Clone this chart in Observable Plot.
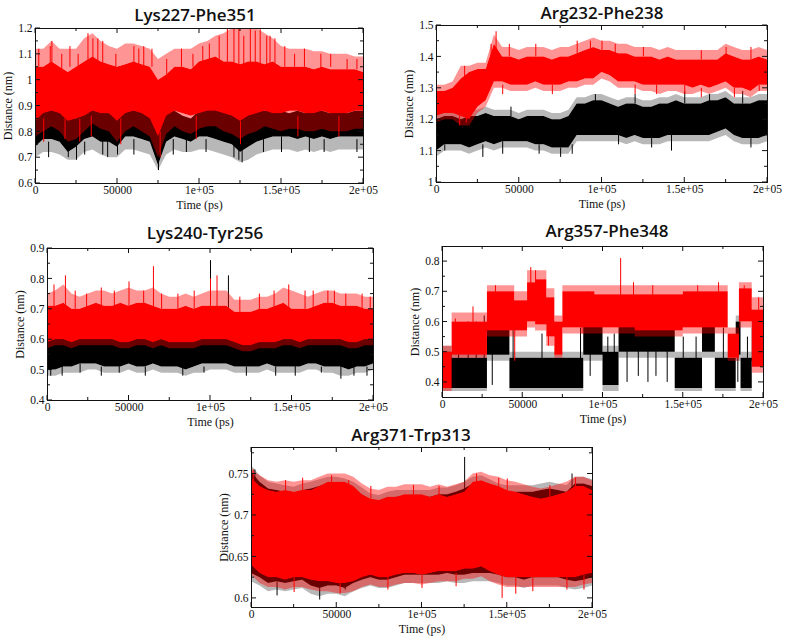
<!DOCTYPE html>
<html><head><meta charset="utf-8">
<script src="https://cdn.jsdelivr.net/npm/d3@7"></script>
<script src="https://cdn.jsdelivr.net/npm/@observablehq/plot@0.6"></script>
<style>
body{margin:0;background:#fff}
#c{position:relative;width:787px;height:639px;overflow:hidden;background:#fff}
#c svg{position:absolute}
.t{position:absolute;font-family:"Open Sans",sans-serif;font-weight:600;font-size:17px;color:#111;transform:translate(-50%,-50%);white-space:nowrap}
</style>
</head><body><div id="c"></div>
<script>
// ---------- shared axes ----------
const xMajor = [0, 50000, 100000, 150000, 200000];
const xMajorLabels = ["0", "50000", "1e+05", "1.5e+05", "2e+05"];
const xMinor = [25000, 75000, 125000, 175000];
const time = [0,5000,10000,15000,20000,25000,30000,35000,40000,45000,50000,55000,60000,65000,70000,75000,80000,85000,90000,95000,100000,105000,110000,115000,120000,125000,130000,135000,140000,145000,150000,155000,160000,165000,170000,175000,180000,185000,190000,195000,200000];

// ---------- Panel 1: Lys227-Phe351 (dense core hi/lo, sparse peak/trough) ----------
const p1RedPeak = [1.12,1.12,1.15,1.12,1.12,1.12,1.16,1.18,1.15,1.13,1.12,1.14,1.14,1.13,1.12,1.08,1.10,1.12,1.12,1.12,1.14,1.15,1.17,1.18,1.2,1.2,1.2,1.2,1.18,1.16,1.13,1.12,1.12,1.12,1.11,1.11,1.10,1.10,1.10,1.09,1.09];
const p1RedHi = [1.05,1.05,1.07,1.05,1.03,1.05,1.07,1.09,1.07,1.06,1.05,1.06,1.07,1.06,1.05,1.00,1.02,1.05,1.05,1.04,1.07,1.08,1.09,1.07,1.07,1.06,1.07,1.07,1.06,1.07,1.05,1.05,1.05,1.05,1.04,1.05,1.04,1.04,1.04,1.04,1.03];
const p1RedLo = [0.84,0.87,0.88,0.87,0.84,0.85,0.86,0.88,0.87,0.87,0.84,0.87,0.88,0.87,0.85,0.78,0.86,0.88,0.87,0.86,0.87,0.88,0.88,0.87,0.86,0.84,0.86,0.87,0.88,0.87,0.87,0.88,0.88,0.87,0.87,0.88,0.87,0.87,0.87,0.88,0.88];
const p1RedTrough = [0.78,0.80,0.82,0.80,0.76,0.77,0.80,0.83,0.81,0.80,0.76,0.80,0.82,0.80,0.78,0.70,0.79,0.82,0.80,0.79,0.81,0.82,0.82,0.80,0.79,0.77,0.79,0.80,0.82,0.81,0.80,0.81,0.81,0.80,0.80,0.81,0.80,0.80,0.80,0.81,0.81];
const p1BlackHi = [0.88,0.90,0.92,0.88,0.86,0.85,0.88,0.92,0.88,0.87,0.88,0.88,0.90,0.88,0.87,0.82,0.92,0.88,0.86,0.85,0.88,0.90,0.92,0.88,0.88,0.86,0.87,0.88,0.88,0.89,0.88,0.87,0.88,0.87,0.88,0.88,0.87,0.88,0.87,0.88,0.88];
const p1BlackLo = [0.74,0.77,0.77,0.76,0.72,0.74,0.77,0.78,0.76,0.76,0.74,0.78,0.78,0.77,0.76,0.67,0.76,0.78,0.77,0.76,0.78,0.78,0.77,0.76,0.75,0.72,0.74,0.76,0.77,0.78,0.78,0.78,0.77,0.78,0.77,0.78,0.77,0.78,0.78,0.78,0.78];
const p1BlackTrough = [0.70,0.72,0.72,0.71,0.69,0.69,0.72,0.73,0.71,0.70,0.70,0.73,0.73,0.72,0.71,0.65,0.71,0.73,0.72,0.72,0.73,0.73,0.72,0.71,0.70,0.68,0.69,0.71,0.72,0.73,0.73,0.73,0.72,0.73,0.72,0.73,0.72,0.73,0.73,0.73,0.73];
const p1RedSpikes = [[2000,1.05,1.12],[10000,1.05,1.15],[21000,1.05,1.13],[32000,1.05,1.18],[35000,1.05,1.16],[41000,1.05,1.15],[60000,1.05,1.13],[63000,1.05,1.12],[89000,1.05,1.12],[102000,1.05,1.13],[112000,1.05,1.17],[117000,1.05,1.2],[121000,1.05,1.2],[124000,1.05,1.2],[127000,1.05,1.17],[131000,1.05,1.2],[134000,1.05,1.19],[137000,1.05,1.2],[141000,1.05,1.17],[146000,1.05,1.16],[152000,1.05,1.13],[164000,1.05,1.12],[180000,1.05,1.1],
  [9000,1.05,1.13],[16000,1.04,1.1],[26000,1.05,1.1],[38000,1.07,1.16],[49000,1.05,1.1],[66000,1.05,1.13],[71000,1.05,1.12],[80000,1.02,1.08],[96000,1.05,1.1],[106000,1.07,1.14],[143000,1.06,1.17],[158000,1.05,1.1],[174000,1.04,1.1],[190000,1.04,1.08],[196000,1.04,1.08],
  [18000,0.85,0.77],[27000,0.85,0.76],[52000,0.85,0.75],[76000,0.8,0.7],[5000,0.85,0.76],[34000,0.86,0.78],[98000,0.86,0.77],[125000,0.84,0.75],[160000,0.86,0.78],[185000,0.86,0.78]];
const p1BlackSpikes = [[20000,0.78,0.70],[25000,0.78,0.69],[41000,0.78,0.71],[44000,0.78,0.70],[50000,0.78,0.71],[75000,0.72,0.65],[92000,0.78,0.72],[121000,0.78,0.70],[124000,0.78,0.69],[126000,0.78,0.68],[150000,0.78,0.72],[167000,0.78,0.72],
  [8000,0.76,0.7],[30000,0.76,0.71],[60000,0.77,0.71],[84000,0.77,0.71],[104000,0.77,0.72],[139000,0.77,0.72],[176000,0.77,0.72],[196000,0.77,0.72]];

// ---------- Panel 2: Arg232-Phe238 ----------
const p2RedPeak = [1.31,1.31,1.32,1.37,1.37,1.38,1.38,1.47,1.43,1.43,1.42,1.43,1.43,1.43,1.42,1.43,1.43,1.44,1.45,1.46,1.45,1.45,1.44,1.44,1.43,1.43,1.43,1.42,1.43,1.42,1.42,1.42,1.42,1.42,1.42,1.44,1.43,1.42,1.42,1.43,1.42];
const p2RedHi = [1.29,1.29,1.30,1.33,1.35,1.36,1.36,1.44,1.40,1.40,1.39,1.40,1.40,1.40,1.39,1.40,1.40,1.41,1.42,1.43,1.42,1.42,1.41,1.41,1.40,1.40,1.40,1.39,1.40,1.39,1.39,1.39,1.39,1.39,1.39,1.41,1.40,1.39,1.39,1.40,1.39];
const p2RedLo = [1.21,1.22,1.22,1.21,1.20,1.24,1.26,1.32,1.32,1.31,1.31,1.31,1.32,1.31,1.31,1.31,1.32,1.32,1.33,1.33,1.35,1.34,1.32,1.32,1.32,1.31,1.31,1.31,1.31,1.31,1.31,1.30,1.31,1.30,1.31,1.32,1.30,1.30,1.29,1.31,1.31];
const p2RedTrough = [1.19,1.20,1.20,1.18,1.18,1.22,1.24,1.30,1.30,1.29,1.29,1.29,1.30,1.29,1.29,1.29,1.30,1.30,1.31,1.31,1.33,1.32,1.30,1.30,1.30,1.29,1.29,1.28,1.29,1.29,1.28,1.28,1.29,1.28,1.29,1.30,1.28,1.28,1.27,1.29,1.29];
const p2BlackPeak = [1.22,1.23,1.23,1.22,1.23,1.23,1.24,1.23,1.23,1.23,1.22,1.23,1.23,1.23,1.22,1.22,1.23,1.27,1.27,1.28,1.28,1.27,1.26,1.27,1.27,1.26,1.26,1.27,1.27,1.28,1.27,1.27,1.27,1.28,1.28,1.29,1.27,1.27,1.27,1.28,1.28];
const p2BlackHi = [1.20,1.21,1.21,1.20,1.21,1.21,1.22,1.21,1.21,1.21,1.20,1.21,1.21,1.21,1.20,1.20,1.21,1.25,1.25,1.26,1.26,1.25,1.24,1.25,1.25,1.24,1.24,1.25,1.25,1.26,1.25,1.25,1.25,1.26,1.26,1.27,1.25,1.25,1.25,1.26,1.26];
const p2BlackLo = [1.10,1.12,1.12,1.12,1.11,1.12,1.13,1.12,1.13,1.13,1.13,1.13,1.12,1.12,1.11,1.11,1.11,1.15,1.15,1.15,1.15,1.15,1.15,1.14,1.15,1.14,1.14,1.14,1.15,1.15,1.15,1.15,1.15,1.15,1.16,1.17,1.15,1.14,1.14,1.14,1.15];
const p2BlackTrough = [1.08,1.10,1.10,1.10,1.09,1.10,1.11,1.10,1.11,1.11,1.11,1.11,1.10,1.10,1.09,1.09,1.09,1.13,1.13,1.13,1.13,1.13,1.13,1.12,1.13,1.12,1.12,1.12,1.13,1.13,1.13,1.13,1.13,1.13,1.14,1.15,1.13,1.12,1.12,1.12,1.13];
const p2RedSpikes = [[17000,1.30,1.37],[33000,1.40,1.44],[36000,1.40,1.48],[93000,1.40,1.45],[100000,1.40,1.45],[175000,1.40,1.43],[44000,1.40,1.44],[60000,1.40,1.44],[85000,1.41,1.45],[108000,1.41,1.44],[125000,1.40,1.43],[160000,1.39,1.42],[190000,1.39,1.43],
  [14000,1.22,1.18],[18000,1.22,1.19],[133000,1.31,1.28],[150000,1.31,1.28],[195000,1.31,1.29],[40000,1.31,1.28],[70000,1.31,1.28],[120000,1.31,1.28],[160000,1.30,1.27],[180000,1.30,1.27]];
const p2BlackSpikes = [[96000,1.24,1.28],[165000,1.24,1.28],[20000,1.21,1.25],[45000,1.21,1.24],[120000,1.25,1.28],[150000,1.25,1.29],[185000,1.25,1.29],
  [5000,1.12,1.10],[28000,1.12,1.08],[82000,1.12,1.09],[110000,1.15,1.12],[142000,1.15,1.10],[40000,1.13,1.09],[62000,1.12,1.09],[75000,1.11,1.08],[130000,1.14,1.11],[190000,1.14,1.11]];

// ---------- Panel 3: Lys240-Tyr256 ----------
const p3RedPeak = [0.75,0.76,0.78,0.75,0.74,0.75,0.76,0.76,0.75,0.76,0.77,0.76,0.76,0.77,0.75,0.74,0.74,0.75,0.74,0.75,0.76,0.76,0.76,0.73,0.73,0.73,0.74,0.74,0.75,0.77,0.76,0.75,0.74,0.75,0.76,0.76,0.75,0.75,0.75,0.74,0.74];
const p3RedHi = [0.71,0.71,0.72,0.70,0.70,0.71,0.72,0.71,0.71,0.72,0.71,0.72,0.72,0.71,0.70,0.70,0.70,0.71,0.70,0.71,0.71,0.71,0.71,0.69,0.69,0.69,0.70,0.70,0.71,0.72,0.70,0.70,0.70,0.71,0.72,0.72,0.71,0.71,0.71,0.70,0.70];
const p3RedLo = [0.59,0.60,0.60,0.59,0.60,0.60,0.60,0.60,0.60,0.59,0.59,0.60,0.60,0.59,0.60,0.59,0.59,0.59,0.59,0.60,0.60,0.60,0.60,0.59,0.58,0.58,0.59,0.59,0.59,0.60,0.60,0.59,0.60,0.60,0.60,0.60,0.60,0.59,0.59,0.60,0.60];
const p3RedTrough = [0.57,0.58,0.58,0.57,0.58,0.58,0.58,0.58,0.58,0.57,0.57,0.58,0.58,0.57,0.58,0.57,0.57,0.57,0.57,0.58,0.58,0.58,0.58,0.57,0.56,0.56,0.57,0.57,0.57,0.58,0.58,0.57,0.58,0.58,0.58,0.58,0.58,0.57,0.57,0.58,0.58];
const p3BlackHi = [0.62,0.61,0.61,0.62,0.63,0.62,0.61,0.62,0.61,0.62,0.62,0.62,0.61,0.62,0.61,0.61,0.61,0.62,0.62,0.62,0.63,0.62,0.62,0.61,0.61,0.61,0.61,0.62,0.62,0.63,0.62,0.61,0.62,0.62,0.63,0.62,0.62,0.62,0.62,0.62,0.61];
const p3BlackLo = [0.50,0.50,0.51,0.51,0.52,0.52,0.52,0.51,0.51,0.51,0.52,0.51,0.51,0.52,0.51,0.51,0.51,0.50,0.51,0.52,0.52,0.52,0.52,0.51,0.51,0.51,0.51,0.52,0.51,0.51,0.51,0.51,0.52,0.52,0.51,0.51,0.51,0.50,0.51,0.51,0.52];
const p3BlackTrough = [0.48,0.48,0.49,0.49,0.49,0.50,0.50,0.49,0.49,0.49,0.50,0.49,0.49,0.50,0.49,0.49,0.49,0.48,0.49,0.49,0.50,0.50,0.50,0.49,0.49,0.49,0.49,0.50,0.49,0.49,0.49,0.49,0.50,0.50,0.49,0.49,0.48,0.48,0.49,0.49,0.50];
const p3RedSpikes = [[4000,0.7,0.78],[11000,0.7,0.81],[33000,0.7,0.77],[50000,0.7,0.79],[59000,0.7,0.76],[65000,0.7,0.84],[80000,0.7,0.75],[100000,0.7,0.8],[104000,0.7,0.81],[148000,0.7,0.78],[158000,0.7,0.76],[172000,0.7,0.76],[176000,0.7,0.76],[193000,0.7,0.75],
  [17000,0.7,0.76],[24000,0.7,0.75],[41000,0.7,0.76],[70000,0.7,0.75],[90000,0.7,0.76],[118000,0.69,0.74],[130000,0.7,0.75],[139000,0.7,0.76],[163000,0.7,0.76],[183000,0.7,0.75],[198000,0.7,0.74]];
const p3BlackSpikes = [[100000,0.6,0.86],[111000,0.6,0.81],[2000,0.52,0.48],[20000,0.52,0.49],[44000,0.52,0.49],[83000,0.52,0.48],[152000,0.52,0.48],[180000,0.52,0.47],[188000,0.52,0.48],
  [9000,0.51,0.48],[33000,0.51,0.48],[60000,0.51,0.48],[96000,0.51,0.49],[122000,0.51,0.48],[140000,0.51,0.48],[168000,0.51,0.49],[196000,0.51,0.48]];

// ---------- Panel 4: Arg357-Phe348 (state switching) ----------
const p4RedT = [0,6000,28000,45000,53000,58000,65000,70000,75000,95000,120000,150000,178000,185000,193000,200000];
const p4RedPeak = [0.52,0.63,0.72,0.70,0.77,0.77,0.71,0.62,0.72,0.72,0.72,0.72,0.58,0.73,0.68,0.68];
const p4RedHi = [0.50,0.60,0.70,0.67,0.73,0.74,0.68,0.60,0.70,0.69,0.69,0.70,0.56,0.71,0.64,0.64];
const p4RedLo = [0.38,0.49,0.57,0.57,0.60,0.59,0.55,0.49,0.58,0.58,0.57,0.58,0.48,0.60,0.45,0.45];
const p4RedTrough = [0.37,0.48,0.55,0.55,0.58,0.57,0.52,0.48,0.56,0.56,0.55,0.56,0.47,0.58,0.43,0.43];
const p4BlackT = [0,6000,28000,42000,88000,100000,110000,145000,162000,170000,183000,186000,193000,200000];
const p4BlackPeak = [0.52,0.50,0.62,0.50,0.62,0.52,0.62,0.50,0.62,0.50,0.62,0.50,0.60,0.60];
const p4BlackHi = [0.50,0.48,0.60,0.48,0.60,0.50,0.60,0.48,0.60,0.48,0.60,0.48,0.58,0.58];
const p4BlackLo = [0.38,0.38,0.49,0.38,0.49,0.39,0.50,0.38,0.50,0.38,0.49,0.38,0.47,0.47];
const p4BlackTrough = [0.37,0.37,0.47,0.37,0.47,0.37,0.48,0.37,0.48,0.37,0.47,0.37,0.45,0.45];
const p4RedSpikes = [[8000,0.58,0.61],[19000,0.58,0.65],[33000,0.68,0.72],[55000,0.72,0.78],[58000,0.72,0.77],[91000,0.68,0.7],[111000,0.68,0.81],[119000,0.68,0.73],[131000,0.68,0.72],[159000,0.68,0.72],[172000,0.68,0.73],[188000,0.68,0.72],[197000,0.62,0.68],[45000,0.58,0.47],[66000,0.56,0.52],[87000,0.59,0.56]];
const p4BlackSpikes = [[10000,0.46,0.58],[16000,0.46,0.6],[21000,0.46,0.6],[26000,0.46,0.62],[30000,0.55,0.63],[44000,0.46,0.58],[62000,0.46,0.56],[86000,0.46,0.58],[103000,0.46,0.55],[107000,0.46,0.56],[115000,0.52,0.40],[122000,0.52,0.42],[128000,0.52,0.40],[133000,0.52,0.42],[140000,0.52,0.40],[150000,0.46,0.55],[158000,0.46,0.55],[175000,0.46,0.58],[184000,0.52,0.40],[190000,0.46,0.55],[31000,0.52,0.39],[92000,0.52,0.42]];

// ---------- Panel 5: Arg371-Trp313 ----------
const p5RedPeak = [0.755,0.748,0.742,0.740,0.742,0.740,0.742,0.742,0.746,0.750,0.750,0.750,0.746,0.738,0.732,0.730,0.734,0.734,0.737,0.737,0.737,0.734,0.737,0.734,0.737,0.740,0.750,0.752,0.748,0.746,0.742,0.740,0.737,0.734,0.732,0.734,0.737,0.740,0.746,0.746,0.742];
const p5RedHi = [0.745,0.735,0.730,0.728,0.730,0.728,0.730,0.730,0.735,0.740,0.740,0.740,0.735,0.725,0.720,0.718,0.722,0.722,0.725,0.725,0.725,0.722,0.725,0.722,0.725,0.728,0.740,0.742,0.738,0.735,0.730,0.728,0.725,0.722,0.720,0.722,0.725,0.728,0.735,0.735,0.730];
const p5RedLo = [0.640,0.630,0.625,0.625,0.622,0.625,0.625,0.622,0.620,0.620,0.618,0.618,0.620,0.625,0.628,0.625,0.625,0.628,0.630,0.630,0.628,0.630,0.632,0.632,0.632,0.635,0.635,0.638,0.632,0.628,0.625,0.625,0.625,0.625,0.625,0.625,0.625,0.625,0.625,0.628,0.630];
const p5RedTrough = [0.628,0.618,0.613,0.613,0.610,0.613,0.613,0.610,0.608,0.608,0.606,0.606,0.608,0.613,0.616,0.613,0.613,0.616,0.618,0.618,0.616,0.618,0.620,0.620,0.620,0.623,0.623,0.626,0.620,0.616,0.613,0.613,0.613,0.613,0.613,0.613,0.613,0.613,0.613,0.616,0.618];
const p5BlackPeak = [0.760,0.748,0.740,0.738,0.736,0.734,0.738,0.740,0.743,0.746,0.746,0.744,0.740,0.733,0.726,0.724,0.728,0.730,0.730,0.730,0.730,0.730,0.733,0.733,0.736,0.740,0.746,0.748,0.743,0.738,0.736,0.736,0.736,0.736,0.738,0.740,0.738,0.736,0.746,0.746,0.743];
const p5BlackHi = [0.752,0.740,0.732,0.730,0.728,0.726,0.730,0.732,0.735,0.738,0.738,0.736,0.732,0.725,0.718,0.716,0.720,0.722,0.722,0.722,0.722,0.722,0.725,0.725,0.728,0.732,0.738,0.740,0.735,0.730,0.728,0.728,0.728,0.728,0.730,0.732,0.730,0.728,0.738,0.738,0.735];
const p5BlackLo = [0.630,0.625,0.618,0.620,0.618,0.620,0.622,0.615,0.612,0.615,0.615,0.612,0.618,0.622,0.625,0.622,0.622,0.625,0.628,0.628,0.628,0.628,0.628,0.630,0.628,0.628,0.630,0.630,0.630,0.628,0.625,0.625,0.622,0.625,0.625,0.625,0.625,0.622,0.620,0.622,0.625];
const p5BlackTrough = [0.620,0.615,0.608,0.610,0.608,0.610,0.612,0.605,0.602,0.605,0.605,0.602,0.608,0.612,0.615,0.612,0.612,0.615,0.618,0.618,0.618,0.618,0.618,0.620,0.618,0.618,0.620,0.620,0.620,0.618,0.615,0.615,0.612,0.615,0.615,0.615,0.615,0.612,0.610,0.612,0.615];
const p5RedSpikes = [[1000,0.73,0.755],[20000,0.73,0.742],[47000,0.73,0.748],[57000,0.73,0.742],[110000,0.72,0.735],[132000,0.73,0.75],[145000,0.73,0.745],[190000,0.73,0.745],[30000,0.73,0.745],[70000,0.72,0.735],[95000,0.72,0.736],[150000,0.73,0.744],[175000,0.72,0.736],
  [52000,0.63,0.605],[80000,0.63,0.61],[147000,0.63,0.60],[155000,0.63,0.605],[185000,0.63,0.61],[25000,0.625,0.607],[100000,0.628,0.612],[120000,0.63,0.614],[165000,0.625,0.608],[195000,0.628,0.61]];
const p5BlackSpikes = [[2000,0.74,0.755],[125000,0.72,0.77],[188000,0.73,0.75],[15000,0.62,0.603],[40000,0.62,0.598],[55000,0.62,0.61]];

// ---------- panel settings ----------
const RED = "#ff0000", BLACK = "#000000";
const panels = [
  {title:"Lys227-Phe351", frame:[35,363,28,183], titleAt:[195,14], yDomain:[0.6,1.2], yMajor:[0.6,0.7,0.8,0.9,1,1.1,1.2], yMinor:[0.65,0.75,0.85,0.95,1.05,1.15],
   layers:[{t:time,lo:p1BlackLo,hi:p1BlackHi,trough:p1BlackTrough,spikes:p1BlackSpikes,color:BLACK},{t:time,lo:p1RedLo,hi:p1RedHi,peak:p1RedPeak,trough:p1RedTrough,spikes:p1RedSpikes,color:RED}]},
  {title:"Arg232-Phe238", frame:[436,767,25,182], titleAt:[602,12], yDomain:[1,1.5], yMajor:[1,1.1,1.2,1.3,1.4,1.5], yMinor:[1.05,1.15,1.25,1.35,1.45],
   layers:[{t:time,lo:p2BlackLo,hi:p2BlackHi,peak:p2BlackPeak,trough:p2BlackTrough,spikes:p2BlackSpikes,color:BLACK},{t:time,lo:p2RedLo,hi:p2RedHi,peak:p2RedPeak,trough:p2RedTrough,spikes:p2RedSpikes,color:RED}]},
  {title:"Lys240-Tyr256", frame:[47,373,248,400], titleAt:[205,232], yDomain:[0.4,0.9], yMajor:[0.4,0.5,0.6,0.7,0.8,0.9], yMinor:[0.45,0.55,0.65,0.75,0.85],
   layers:[{t:time,lo:p3BlackLo,hi:p3BlackHi,trough:p3BlackTrough,spikes:p3BlackSpikes,color:BLACK},{t:time,lo:p3RedLo,hi:p3RedHi,peak:p3RedPeak,trough:p3RedTrough,spikes:p3RedSpikes,color:RED}]},
  {title:"Arg357-Phe348", frame:[442,763,246,397], titleAt:[607,230], yDomain:[0.35,0.85], yMajor:[0.4,0.5,0.6,0.7,0.8], yMinor:[0.45,0.55,0.65,0.75],
   layers:[{t:p4BlackT,lo:p4BlackLo,hi:p4BlackHi,peak:p4BlackPeak,trough:p4BlackTrough,spikes:p4BlackSpikes,color:BLACK,curve:"step-after"},{t:p4RedT,lo:p4RedLo,hi:p4RedHi,peak:p4RedPeak,trough:p4RedTrough,spikes:p4RedSpikes,color:RED,curve:"step-after"}]},
  {title:"Arg371-Trp313", frame:[251,592,447,607], titleAt:[411,434], yDomain:[0.589,0.782], yMajor:[0.6,0.65,0.7,0.75], yMinor:[0.625,0.675,0.725,0.775],
   layers:[{t:time,lo:p5BlackLo,hi:p5BlackHi,peak:p5BlackPeak,trough:p5BlackTrough,spikes:p5BlackSpikes,color:BLACK},{t:time,lo:p5RedLo,hi:p5RedHi,peak:p5RedPeak,trough:p5RedTrough,spikes:p5RedSpikes,color:RED}]}
];

const container = document.getElementById("c");
const xLabel = new Map(xMajor.map((v, i) => [v, xMajorLabels[i]]));

function drawPanel(cfg) {
  const [L, R, T, B] = cfg.frame;
  const mL = 44, mR = 24, mT = 6, mB = 32;
  const w = R - L + mL + mR, h = B - T + mT + mB;
  const marks = [];
  for (const ly of cfg.layers) {
    const curve = ly.curve || "linear";
    const fringe = ly.color === RED ? 0.42 : 0.28;
    const rows = ly.t.map((t, i) => ({
      t, lo: ly.lo[i], hi: ly.hi[i],
      peak: ly.peak ? ly.peak[i] : ly.hi[i],
      trough: ly.trough ? ly.trough[i] : ly.lo[i]
    }));
    // sparse fringe (thin noisy excursions) then dense core
    marks.push(Plot.areaY(rows, {x: "t", y1: "hi", y2: "peak", fill: ly.color, fillOpacity: fringe, curve}));
    marks.push(Plot.areaY(rows, {x: "t", y1: "trough", y2: "lo", fill: ly.color, fillOpacity: fringe, curve}));
    marks.push(Plot.areaY(rows, {x: "t", y1: "lo", y2: "hi", fill: ly.color, curve}));
    const sp = ly.spikes.map(([t, a, b]) => ({t, a, b}));
    marks.push(Plot.ruleX(sp, {x: "t", y1: "a", y2: "b", stroke: ly.color, strokeWidth: 1}));
  }
  marks.push(Plot.frame({stroke: "#111", strokeWidth: 1}));
  marks.push(Plot.axisX(xMajor, {tickSize: 0, tickPadding: 2, fontSize: 11.5, tickFormat: d => xLabel.get(d), label: null}));
  marks.push(Plot.axisY(cfg.yMajor, {tickSize: 0, tickPadding: 3, fontSize: 11.5, tickFormat: d => String(+d.toFixed(3)), label: null}));
  marks.push(Plot.text(["Distance (nm)"], {frameAnchor: "left", dx: -27, rotate: -90, textAnchor: "middle", lineAnchor: "middle", text: d => d, fontSize: 12}));
  marks.push(Plot.text(["Time (ps)"], {frameAnchor: "bottom", dy: 22, textAnchor: "middle", lineAnchor: "middle", text: d => d, fontSize: 12}));
  const p = Plot.plot({
    width: w, height: h, marginLeft: mL, marginRight: mR, marginTop: mT, marginBottom: mB,
    x: {domain: [0, 200000]}, y: {domain: cfg.yDomain},
    style: {fontFamily: "'Liberation Serif', serif", fontSize: "12px", background: "transparent", overflow: "visible", color: "#111"},
    marks
  });
  p.style.left = (L - mL) + "px";
  p.style.top = (T - mT) + "px";
  const sx = p.scale("x"), sy = p.scale("y");
  const g = d3.select(p).append("g").attr("stroke", "#111").attr("stroke-width", 1);
  const yb = sy.apply(cfg.yDomain[0]), yt = sy.apply(cfg.yDomain[1]);
  const xl = sx.apply(0), xr = sx.apply(200000);
  for (const [vals, len] of [[xMajor, 5], [xMinor, 3]]) for (const v of vals) {
    const x = sx.apply(v);
    g.append("line").attr("x1", x).attr("x2", x).attr("y1", yb).attr("y2", yb - len);
    g.append("line").attr("x1", x).attr("x2", x).attr("y1", yt).attr("y2", yt + len);
  }
  for (const [vals, len] of [[cfg.yMajor, 5], [cfg.yMinor, 3]]) for (const v of vals) {
    const y = sy.apply(v);
    g.append("line").attr("y1", y).attr("y2", y).attr("x1", xl).attr("x2", xl + len);
    g.append("line").attr("y1", y).attr("y2", y).attr("x1", xr).attr("x2", xr - len);
  }
  container.appendChild(p);
  const t = document.createElement("div");
  t.className = "t";
  t.textContent = cfg.title;
  t.style.left = cfg.titleAt[0] + "px";
  t.style.top = cfg.titleAt[1] + "px";
  container.appendChild(t);
}

panels.forEach(drawPanel);
</script>
</body></html>
